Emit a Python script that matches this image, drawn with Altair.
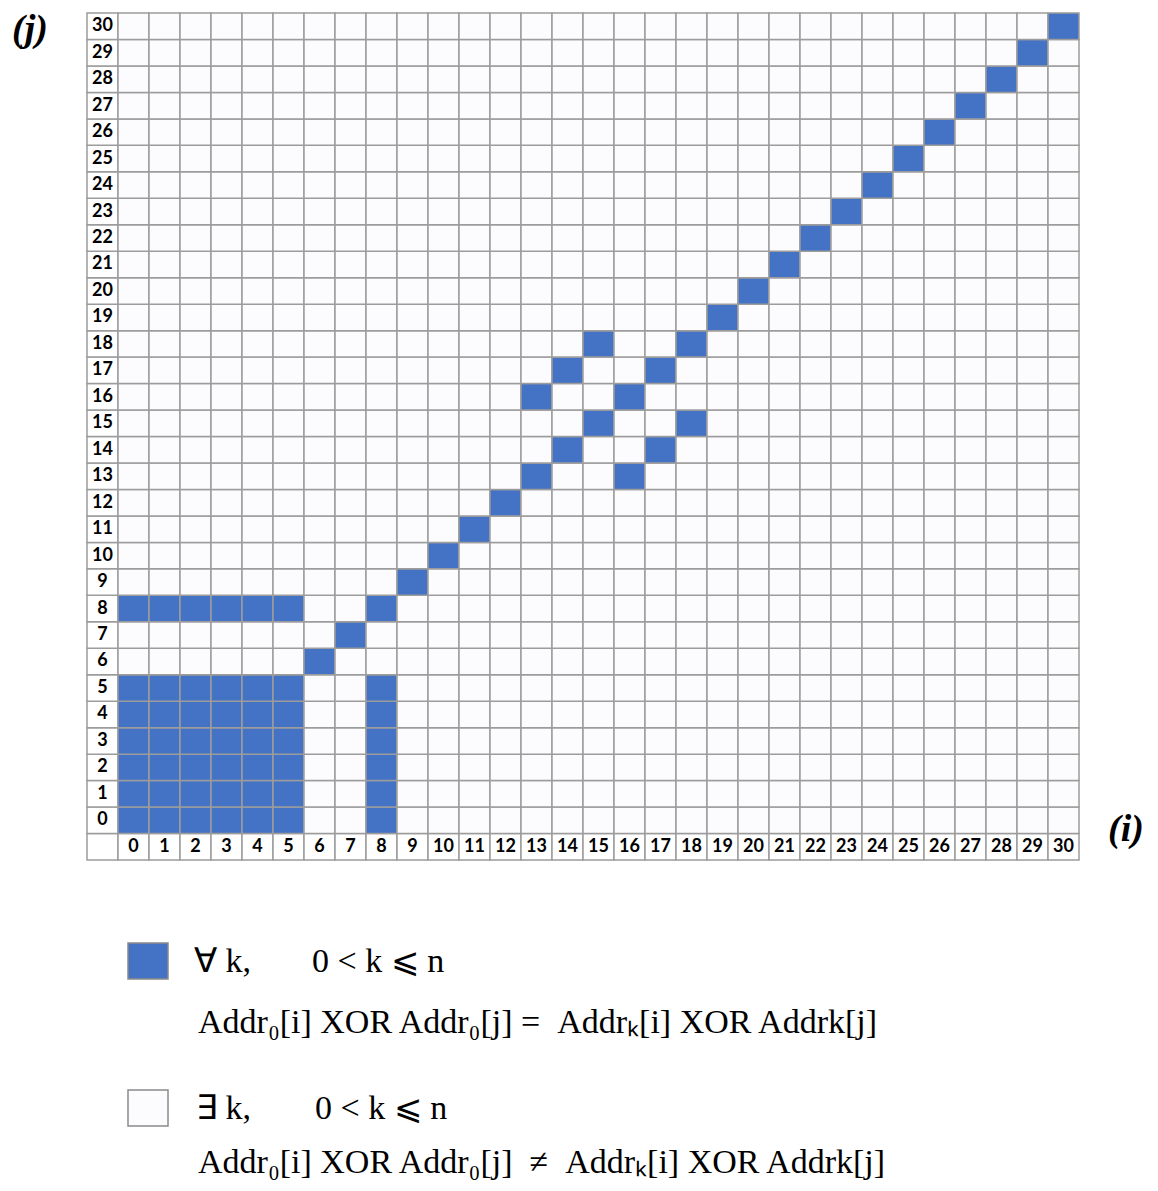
import altair as alt
import pandas as pd

# ---- data ----
i_labels = list(range(0, 31))
j_labels = list(range(0, 31))
block_cols = [0, 1, 2, 3, 4, 5]
block_rows = [0, 1, 2, 3, 4, 5]
row8_cols = [0, 1, 2, 3, 4, 5]
col8_rows = [0, 1, 2, 3, 4, 5]
diagonal = list(range(6, 31))
extra_i = [13, 14, 15, 16, 17, 18]
extra_j = [16, 17, 18, 13, 14, 15]

blue = set()
for a in block_cols:
    for b in block_rows:
        blue.add((a, b))
for a in row8_cols:
    blue.add((a, 8))
for b in col8_rows:
    blue.add((8, b))
for d in diagonal:
    blue.add((d, d))
for a, b in zip(extra_i, extra_j):
    blue.add((a, b))

rows = []
for i in [-1] + i_labels:
    for j in [-1] + j_labels:
        if i == -1 or j == -1:
            kind = "label"
        elif (i, j) in blue:
            kind = "blue"
        else:
            kind = "white"
        rows.append({"i": i, "j": j, "kind": kind})
cells = pd.DataFrame(rows)

labels = pd.DataFrame(
    [{"i": v, "j": -1, "t": str(v)} for v in i_labels]
    + [{"i": -1, "j": v, "t": str(v)} for v in j_labels]
)

xs = alt.Scale(domain=[-1.5, 30.5], nice=False, zero=False)
ys = alt.Scale(domain=[-1.5, 30.5], nice=False, zero=False)

grid = alt.Chart(cells).transform_calculate(
    x0="datum.i - 0.5", x1="datum.i + 0.5", y0="datum.j - 0.5", y1="datum.j + 0.5"
).mark_rect(stroke="#9c9c9c", strokeWidth=1.5).encode(
    x=alt.X("x0:Q", scale=xs, axis=None),
    x2="x1:Q",
    y=alt.Y("y0:Q", scale=ys, axis=None),
    y2="y1:Q",
    color=alt.Color(
        "kind:N",
        scale=alt.Scale(domain=["blue", "white", "label"],
                        range=["#4472C4", "#FCFCFF", "#FFFFFF"]),
        legend=None,
    ),
)

ticks = alt.Chart(labels).mark_text(
    font="Lato", fontWeight="bold", fontSize=18, color="black", baseline="middle"
).encode(
    x=alt.X("i:Q", scale=xs, axis=None),
    y=alt.Y("j:Q", scale=ys, axis=None),
    text="t:N",
)

one = pd.DataFrame({"a": [0]})
NB = "\u00a0"

def txt(s, x, y, size=34, font="Liberation Serif", style="normal", weight="normal"):
    return alt.Chart(one).mark_text(
        text=s, font=font, fontSize=size, fontStyle=style, fontWeight=weight,
        align="left", baseline="middle", color="black",
    ).encode(x=alt.value(x), y=alt.value(y))

def sq(fill, y1):
    return alt.Chart(one).mark_rect(fill=fill, stroke="#8a8a8a", strokeWidth=1.5).encode(
        x=alt.value(41), x2=alt.value(81), y=alt.value(y1), y2=alt.value(y1 + 36)
    )

annot = [
    txt("(j)", -75, 17, size=38, style="italic", weight="bold"),
    txt("(i)", 1021, 817, size=38, style="italic", weight="bold"),
    sq("#4472C4", 930),
    txt("∀ k,", 107, 949),
    txt("0 < k ⩽ n", 225, 949),
    txt("Addr₀[i] XOR Addr₀[j] =" + NB + NB + "Addrₖ[i] XOR Addrk[j]", 111, 1010),
    sq("#FCFCFF", 1077),
    txt("∃ k,", 109, 1096),
    txt("0 < k ⩽ n", 228, 1096),
    txt("Addr₀[i] XOR Addr₀[j]" + NB + NB + "≠" + NB + NB + "Addrₖ[i] XOR Addrk[j]", 111, 1150),
]

chart = alt.layer(grid, ticks, *annot).properties(
    width=992, height=847,
    autosize=alt.AutoSizeParams(type="none"),
    padding={"left": 79, "top": 5, "right": 70, "bottom": 322},
).configure_view(stroke=None)

chart.save("out.html", embed_options={"renderer": "svg", "actions": False})
